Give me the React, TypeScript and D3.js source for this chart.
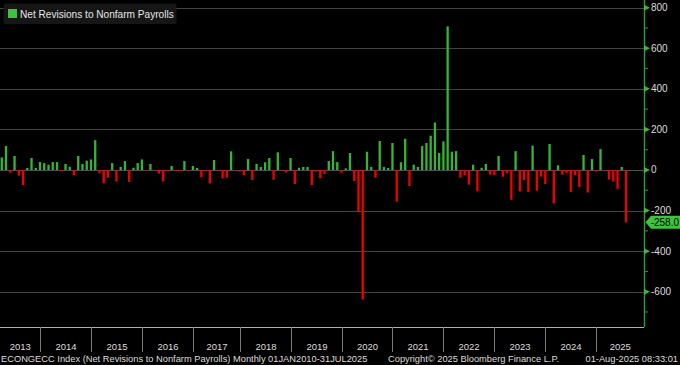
import { useEffect, useRef } from 'react';
import * as d3 from 'd3';

// monthly net revisions (thousands), one array per year
const rev2013 = [62, 118, -13, 69, -28, -74, 10, 59, 10, 39]; // Mar-Dec
const rev2014 = [34, 26, 39, 39, -6, 30, 16, -26, 69, 30, 46, 52];
const rev2015 = [147, -16, -66, -38, 34, -57, 15, 44, -59, 11, 34, 52];
const rev2016 = [-3, 30, -2, -18, -57, -6, 20, -4, -5, 44, -3, 20];
const rev2017 = [10, -36, -5, -66, 49, -3, -41, -38, 92, -2, -8]; // Feb-Dec, no Jan print
const rev2018 = [-25, 54, -49, 30, 15, 38, 59, -48, 87, -2, -13, 59];
const rev2019 = [-69, 11, 15, 15, -74, -8, -41, -20, 44, 93, 39, -13];
const rev2020 = [8, 84, -54, -205, -639, 90, 15, -38, 143, 15, 10, 133];
const rev2021 = [-157, 38, 154, -79, 26, 15, 118, 133, 169, 234, 84, 141];
const rev2022 = [708, 90, 93, -38, -25, -72, 26, -105, 11, 30, -23, -25];
const rev2023 = [69, -33, -16, -147, 93, -106, -49, -108, 120, -102, -33, -69];
const rev2024 = [128, -165, 23, -23, -15, -108, -26, -84, 74, -111, 54, -8];
const rev2025 = [103, -2, -47, -57, -93, 15, -258]; // Jan-Jul

const yearRows = [
  { year: 2013, firstMonth: 3, values: rev2013 },
  { year: 2014, firstMonth: 1, values: rev2014 },
  { year: 2015, firstMonth: 1, values: rev2015 },
  { year: 2016, firstMonth: 1, values: rev2016 },
  { year: 2017, firstMonth: 2, values: rev2017 },
  { year: 2018, firstMonth: 1, values: rev2018 },
  { year: 2019, firstMonth: 1, values: rev2019 },
  { year: 2020, firstMonth: 1, values: rev2020 },
  { year: 2021, firstMonth: 1, values: rev2021 },
  { year: 2022, firstMonth: 1, values: rev2022 },
  { year: 2023, firstMonth: 1, values: rev2023 },
  { year: 2024, firstMonth: 1, values: rev2024 },
  { year: 2025, firstMonth: 1, values: rev2025 },
];

const majorTicks = [800, 600, 400, 200, 0, -200, -400, -600];
const minorTicks = [700, 500, 300, 100, -100, -300, -500, -700];

const legendLabel = 'Net Revisions to Nonfarm Payrolls';
const footerLeft = 'ECONGECC Index (Net Revisions to Nonfarm Payrolls)  Monthly 01JAN2010-31JUL2025';
const footerMid = 'Copyright\u00a9 2025 Bloomberg Finance L.P.';
const footerRight = '01-Aug-2025 08:33:01';

const GREEN = '#35b535';
const RED = '#f00000';
const FONT = "'Liberation Sans', Arial, sans-serif";

function RevisionsChart() {
  const svgRef = useRef<SVGSVGElement>(null);

  const createGraph = () => {
    const width = 680,
      height = 365,
      plotRight = 644,
      plotBottom = 327;

    const svg = d3.select(svgRef.current);
    svg.selectAll('*').remove();

    const obs = yearRows.flatMap((r) =>
      r.values.map((v, j) => ({ key: `${r.year}-${r.firstMonth + j}`, year: r.year, value: v })),
    );

    const x = d3
      .scaleBand()
      .domain(obs.map((d) => d.key))
      .range([-0.32, 628.12])
      .padding(0);
    const cx = (key: string) => (x(key) ?? 0) + x.bandwidth() / 2;

    const y = d3.scaleLinear().domain([-774, 838]).range([plotBottom, 0]);

    svg.append('rect').attr('width', width).attr('height', height).attr('fill', '#000');

    // gridlines
    svg
      .append('g')
      .selectAll('line')
      .data(majorTicks)
      .join('line')
      .attr('x1', 0)
      .attr('x2', plotRight)
      .attr('y1', (d) => Math.round(y(d)) + 0.5)
      .attr('y2', (d) => Math.round(y(d)) + 0.5)
      .attr('stroke', (d) => (d === 0 ? '#4a5454' : '#444'))
      .attr('stroke-width', 1);

    // bars
    const barW = 2.3;
    svg
      .append('g')
      .selectAll('rect')
      .data(obs)
      .join('rect')
      .attr('x', (d) => cx(d.key) - barW / 2)
      .attr('width', barW)
      .attr('y', (d) => y(Math.max(0, d.value)))
      .attr('height', (d) => Math.abs(y(d.value) - y(0)))
      .attr('fill', (d) => (d.value >= 0 ? GREEN : RED));

    // legend
    const legend = svg.append('g');
    legend
      .append('rect')
      .attr('x', 3.5)
      .attr('y', 3.5)
      .attr('width', 173)
      .attr('height', 20.5)
      .attr('rx', 2)
      .attr('fill', '#161616');
    legend.append('rect').attr('x', 8).attr('y', 9).attr('width', 9).attr('height', 9).attr('fill', '#3cc43c');
    legend
      .append('text')
      .attr('x', 20)
      .attr('y', 18)
      .attr('fill', '#e6e6e6')
      .attr('font-family', FONT)
      .attr('font-size', 10.1)
      .text(legendLabel);

    // right axis
    const axis = svg.append('g');
    axis
      .append('line')
      .attr('x1', plotRight + 0.5)
      .attr('x2', plotRight + 0.5)
      .attr('y1', 0)
      .attr('y2', plotBottom)
      .attr('stroke', '#2f9a2f')
      .attr('stroke-width', 1.5);
    axis
      .selectAll('line.minor')
      .data(minorTicks)
      .join('line')
      .attr('class', 'minor')
      .attr('x1', plotRight)
      .attr('x2', plotRight + 4)
      .attr('y1', (d) => y(d))
      .attr('y2', (d) => y(d))
      .attr('stroke', '#2f9a2f');
    axis
      .selectAll('path.major')
      .data(majorTicks)
      .join('path')
      .attr('class', 'major')
      .attr('d', (d) => `M${plotRight},${y(d) - 3}L${plotRight + 6},${y(d)}L${plotRight},${y(d) + 3}Z`)
      .attr('fill', '#3cb83c');
    axis
      .selectAll('text')
      .data(majorTicks)
      .join('text')
      .attr('x', 651)
      .attr('y', (d) => y(d))
      .attr('dy', '0.35em')
      .attr('fill', '#dcdcdc')
      .attr('font-family', FONT)
      .attr('font-size', 10)
      .text((d) => `${d}`);

    // last value tag
    const last = obs[obs.length - 1];
    const ly = y(last.value);
    svg
      .append('path')
      .attr('d', `M645.5,${ly}L651,${ly - 6.5}L680,${ly - 6.5}L680,${ly + 6.5}L651,${ly + 6.5}Z`)
      .attr('fill', '#3cc43c');
    svg
      .append('text')
      .attr('x', 679)
      .attr('y', ly)
      .attr('dy', '0.36em')
      .attr('text-anchor', 'end')
      .attr('fill', '#000')
      .attr('font-family', FONT)
      .attr('font-size', 10)
      .text(last.value.toFixed(1));

    // bottom year axis
    const years = yearRows.map((r) => r.year);
    const seps = years.slice(1).map((yr) => {
      const prev = obs.filter((d) => d.year === yr - 1);
      return Math.round(cx(prev[prev.length - 1].key)) + 0.5;
    });
    const bounds = [0, ...seps, plotRight];

    svg
      .append('line')
      .attr('x1', 0)
      .attr('x2', plotRight)
      .attr('y1', plotBottom + 0.5)
      .attr('y2', plotBottom + 0.5)
      .attr('stroke', '#b0b0b0');
    svg
      .append('g')
      .selectAll('line')
      .data(seps)
      .join('line')
      .attr('x1', (d) => d)
      .attr('x2', (d) => d)
      .attr('y1', plotBottom)
      .attr('y2', 352)
      .attr('stroke', '#7a7a7a');
    svg
      .append('g')
      .selectAll('text')
      .data(years)
      .join('text')
      .attr('x', (_, i) => (bounds[i] + bounds[i + 1]) / 2)
      .attr('y', 350)
      .attr('text-anchor', 'middle')
      .attr('fill', '#dcdcdc')
      .attr('font-family', FONT)
      .attr('font-size', 9.5)
      .text((d) => `${d}`);

    // footer
    const footer = svg
      .append('g')
      .attr('fill', '#dcdcdc')
      .attr('font-family', FONT)
      .attr('font-size', 9.3)
      .style('white-space', 'pre');
    footer.append('text').attr('x', 1).attr('y', 362).text(footerLeft);
    footer.append('text').attr('x', 388).attr('y', 362).text(footerMid);
    footer.append('text').attr('x', 678).attr('y', 362).attr('text-anchor', 'end').text(footerRight);
  };

  useEffect(() => {
    createGraph();
  }, []);

  return (
    <svg
      ref={svgRef}
      width={680}
      height={365}
      style={{ position: 'absolute', left: 0, top: 0, display: 'block' }}
    />
  );
}

export default function App() {
  return <RevisionsChart />;
}
